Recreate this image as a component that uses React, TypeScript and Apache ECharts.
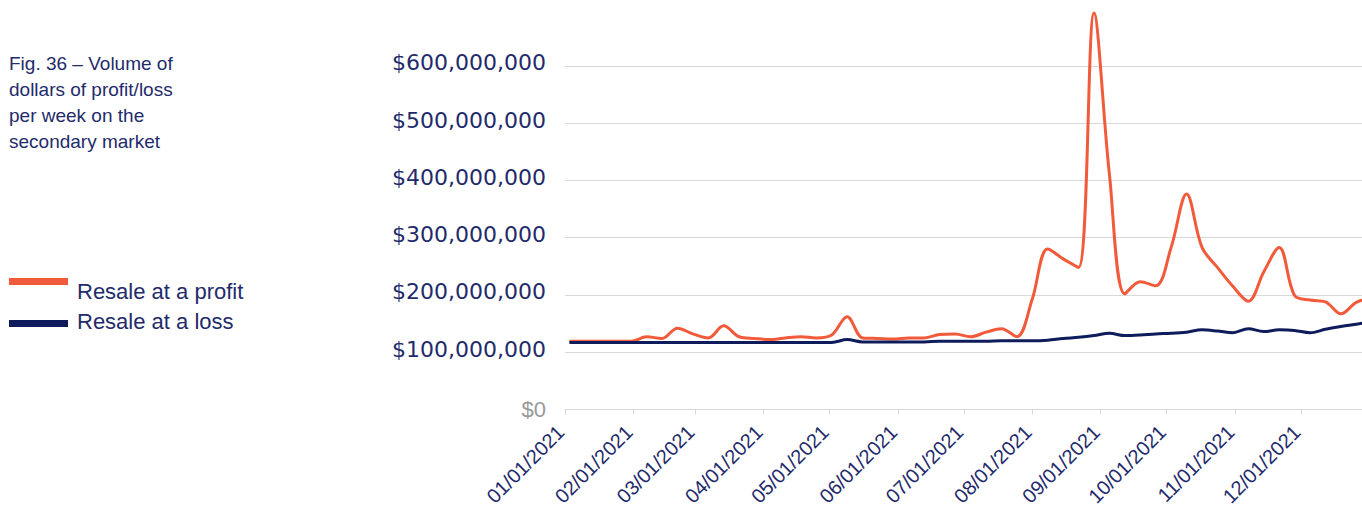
import React, { useEffect, useRef } from 'react';
import * as echarts from 'echarts';

// Weekly observation dates (Sundays)
const weekDates = [
  '2021-01-03', '2021-01-10', '2021-01-17', '2021-01-24', '2021-01-31',
  '2021-02-07', '2021-02-14', '2021-02-21', '2021-02-28',
  '2021-03-07', '2021-03-14', '2021-03-21', '2021-03-28',
  '2021-04-04', '2021-04-11', '2021-04-18', '2021-04-25',
  '2021-05-02', '2021-05-09', '2021-05-16', '2021-05-23', '2021-05-30',
  '2021-06-06', '2021-06-13', '2021-06-20', '2021-06-27',
  '2021-07-04', '2021-07-11', '2021-07-18', '2021-07-25',
  '2021-08-01', '2021-08-08', '2021-08-15', '2021-08-22', '2021-08-29',
  '2021-09-05', '2021-09-12', '2021-09-19', '2021-09-26',
  '2021-10-03', '2021-10-10', '2021-10-17', '2021-10-24', '2021-10-31',
  '2021-11-07', '2021-11-14', '2021-11-21', '2021-11-28',
  '2021-12-05', '2021-12-12', '2021-12-19', '2021-12-26',
  '2022-01-02',
];

// Values in millions of dollars
const profitValues = [
  119, 119, 119, 119, 119,
  127, 124, 142, 132,
  125, 146, 127, 124,
  122, 125, 127, 125,
  130, 162, 125, 124, 123,
  125, 125, 131, 132,
  127, 135, 141, 127,
  193, 280, 263, 248, 692,
  410, 202, 223, 216,
  283, 376, 283, 248, 215,
  189, 240, 283, 199,
  191, 188, 167, 187,
  195,
];

const lossValues = [
  117, 117, 117, 117, 117,
  117, 117, 117, 117,
  117, 117, 117, 117,
  117, 117, 117, 117,
  117, 122, 118, 118, 118,
  118, 118, 119, 119,
  119, 119, 120, 120,
  120, 121, 124, 126, 129,
  133, 129, 130, 132,
  133, 135, 139, 137, 134,
  141, 136, 139, 138,
  134, 140, 145, 149,
  153,
];

const monthTicks = [
  '2021-01-01', '2021-02-01', '2021-03-01', '2021-04-01', '2021-05-01', '2021-06-01',
  '2021-07-01', '2021-08-01', '2021-09-01', '2021-10-01', '2021-11-01', '2021-12-01',
];

const seriesNames = ['Resale at a profit', 'Resale at a loss'];
const titleLines = ['Fig. 36 \u2013 Volume of', 'dollars of profit/loss', 'per week on the', 'secondary market'];

const ORANGE = '#f15a3a';
const NAVY = '#0e1c5c';
const TEXT = '#1f2b6b';
const GRID = '#d9d9d9';

const toTs = (d: string) => +new Date(d + 'T00:00:00');
const pad = (n: number) => (n < 10 ? '0' + n : '' + n);

export default function App() {
  const ref = useRef<HTMLDivElement>(null);

  useEffect(() => {
    document.body.style.margin = '0';
    if (!ref.current) return;
    const chart = echarts.init(ref.current, null, { renderer: 'svg' });
    const tickTs = monthTicks.map(toTs);

    const titleGraphics = titleLines.map((t, i) => ({
      type: 'text',
      left: 9,
      top: 54 + i * 26,
      style: { text: t, fill: TEXT, font: '19px "Liberation Sans", Arial, sans-serif' },
    }));

    const legendGraphics = [
      { type: 'rect', shape: { x: 9, y: 278, width: 59, height: 7 }, style: { fill: ORANGE } },
      { type: 'rect', shape: { x: 9, y: 320, width: 59, height: 7 }, style: { fill: NAVY } },
      {
        type: 'text', left: 77, top: 280,
        style: { text: seriesNames[0], fill: TEXT, font: '22px "Liberation Sans", Arial, sans-serif' },
      },
      {
        type: 'text', left: 77, top: 310,
        style: { text: seriesNames[1], fill: TEXT, font: '22px "Liberation Sans", Arial, sans-serif' },
      },
    ];

    chart.setOption({
      animation: false,
      textStyle: { fontFamily: '"Liberation Sans", Arial, sans-serif' },
      grid: {
        left: 565, right: 0, top: 8.5, bottom: 101.5,
        containLabel: false,
        outerBoundsMode: 'none',
      },
      graphic: [...titleGraphics, ...legendGraphics],
      xAxis: {
        type: 'value',
        min: toTs('2021-01-01'),
        max: +new Date('2021-12-28T14:00:00'),
        axisLine: { show: true, lineStyle: { color: GRID, width: 1 } },
        axisTick: { show: true, length: 5, lineStyle: { color: GRID }, customValues: tickTs },
        axisLabel: {
          customValues: tickTs,
          rotate: 45,
          margin: 15,
          padding: [0, 6, 0, 0],
          color: TEXT,
          fontSize: 20,
          fontFamily: '"Liberation Sans", Arial, sans-serif',
          hideOverlap: false,
          showMinLabel: true,
          showMaxLabel: true,
          formatter: (v: number) => {
            const d = new Date(v);
            return pad(d.getMonth() + 1) + '/' + pad(d.getDate()) + '/' + d.getFullYear();
          },
        },
        splitLine: { show: false },
      },
      yAxis: {
        type: 'value',
        min: 0,
        max: 700,
        interval: 100,
        axisLine: { show: false },
        axisTick: { show: false },
        splitLine: { show: true, showMaxLine: false, lineStyle: { color: GRID, width: 1 } },
        axisLabel: {
          margin: 19,
          showMaxLabel: false,
          formatter: (v: number) => (v === 0 ? '{z|$0}' : '{v|$' + v + ',000,000}'),
          rich: {
            v: { color: TEXT, fontSize: 22, fontFamily: '"DejaVu Sans", sans-serif', padding: [0, 0, 6, 0] },
            z: { color: '#9a9a9a', fontSize: 22, fontFamily: '"Liberation Sans", Arial, sans-serif' },
          },
        },
      },
      series: [
        {
          name: seriesNames[0],
          type: 'line',
          smooth: 0.35,
          symbol: 'none',
          clip: true,
          lineStyle: { color: ORANGE, width: 3 },
          data: weekDates.map((d, i) => [toTs(d), profitValues[i]]),
        },
        {
          name: seriesNames[1],
          type: 'line',
          smooth: 0.35,
          symbol: 'none',
          clip: true,
          lineStyle: { color: NAVY, width: 3 },
          data: weekDates.map((d, i) => [toTs(d), lossValues[i]]),
        },
      ],
    });

    return () => chart.dispose();
  }, []);

  return <div ref={ref} style={{ width: 1362, height: 511 }} />;
}
